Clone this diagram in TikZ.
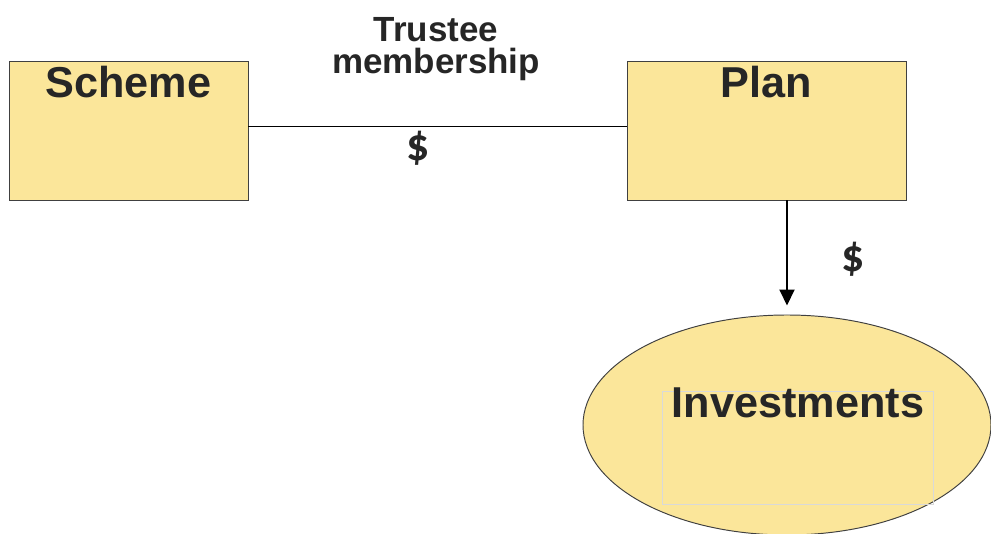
\documentclass[tikz,border=0pt]{standalone}
\usepackage{fontspec}
\setmainfont{Liberation Sans}
\newfontfamily\dollarfont{Carlito}
\usepackage{tikz}
\usetikzlibrary{calc, arrows.meta, shapes.geometric}

\definecolor{giallo}{RGB}{251,230,154}
\definecolor{bordo}{RGB}{64,64,64}
\definecolor{testo}{RGB}{38,38,38}

\begin{document}
\begin{tikzpicture}[>={Triangle[length=0.32cm, width=0.3cm]},
  box/.style={draw=bordo, fill=giallo, line width=0.55pt, inner sep=0pt},
  title/.style={anchor=base, text=testo, font=\fontsize{24.6}{28}\selectfont\bfseries},
  dollar/.style={text=testo, font=\dollarfont\fontsize{26}{30}\selectfont\bfseries}]

\useasboundingbox (0,0) rectangle (19.82,10.68);

% riquadri
\node[box, minimum width=4.78cm, minimum height=2.78cm] (scheme) at (2.57,8.07) {};
\node[box, minimum width=5.58cm, minimum height=2.78cm] (plan) at (15.33,8.07) {};

% ellisse degli investimenti
\node[box, ellipse, minimum width=8.16cm, minimum height=4.4cm] (invest) at (15.74,2.18) {};
\node[draw=black!15, line width=0.5pt, minimum width=5.42cm, minimum height=2.26cm] (investframe) at (15.95,1.73) {};

% titoli
\node[title] (schemetitle) at (2.57,8.72) {Scheme};
\node[title] (plantitle) at (15.33,8.72) {Plan};
\node[title] (investtitle) at (15.96,2.32) {Investments};

% collegamento tra Scheme e Plan
\coordinate (link) at (0,8.16);
\draw[line width=0.55pt] (scheme.east |- link) -- (plan.west |- link);
\node[text=testo, align=center, font=\fontsize{19.9}{18.6}\selectfont\bfseries] (trustee) at (8.72,9.70) {Trustee\\membership};
\node[dollar] (linkdollar) at (8.37,7.71) {\$};

% freccia verso gli investimenti
\draw[->, line width=1.1pt, shorten >=0.18cm] (invest.north |- plan.south) -- (invest.north);
\node[dollar] (arrowdollar) at (17.06,5.50) {\$};

\end{tikzpicture}
\end{document}
